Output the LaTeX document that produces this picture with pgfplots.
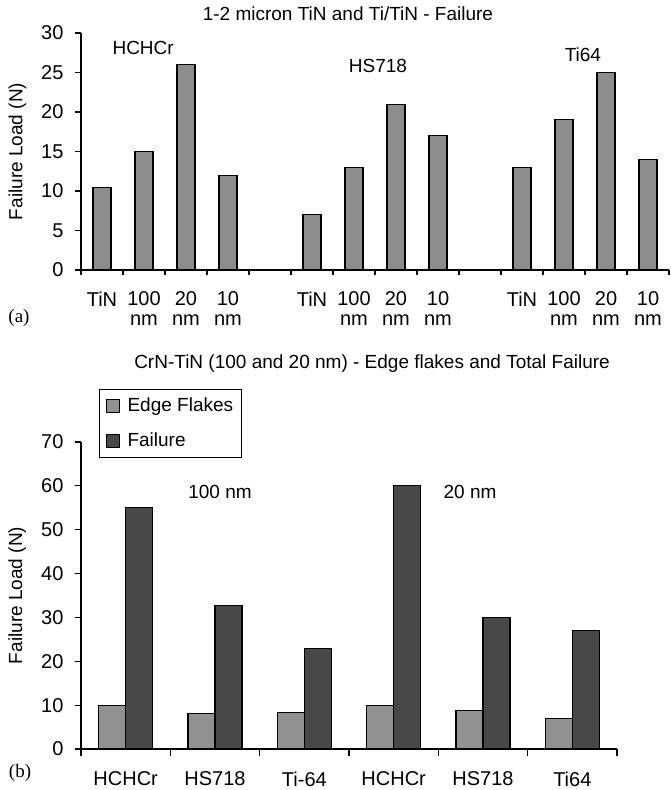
\documentclass[border=0pt]{standalone}
\usepackage{pgfplots}
\pgfplotsset{compat=1.18}
\usepackage{fontspec}
\setmainfont{Liberation Sans}
\newfontfamily\serif{Liberation Serif}
\definecolor{barA}{RGB}{140,140,140}
\definecolor{barL}{RGB}{145,145,145}
\definecolor{barD}{RGB}{72,72,72}
\newcommand{\fs}{\fontsize{19pt}{20pt}\selectfont}
\newcommand{\ft}{\fontsize{20pt}{19.5pt}\selectfont}
\begin{document}
\fs
\begin{tikzpicture}
\useasboundingbox (0pt,0pt) rectangle (670pt,-790pt);
\pgfplotsset{
  common/.style={
    scale only axis,
    axis x line=bottom, axis y line=left,
    axis line style={-, line width=1.1pt},
    tick align=outside,
    every tick/.style={black, line width=1.1pt},
    /pgf/number format/assume math mode=true,
    tick label style={font=\ft},
    yticklabel style={xshift=-5pt},
    label style={font=\fs},
    ylabel={Failure Load (N)},
    ymin=0,
    clip=false,
  }
}
% ---------- (a) ----------
\begin{axis}[common,
  at={(81pt,-270pt)}, anchor=south west,
  width=588pt, height=237pt,
  xmin=-0.5, xmax=13.5, ymax=30,
  ytick={0,5,...,30},
  xtick={0,1,2,3,5,6,7,8,10,11,12,13},
  xticklabels={TiN,{100\\nm},{20\\nm},{10\\nm},TiN,{100\\nm},{20\\nm},{10\\nm},TiN,{100\\nm},{20\\nm},{10\\nm}},
  xticklabel style={align=center, yshift=-9pt, font=\ft},
  major x tick style={draw=none},
  minor xtick={-0.5,0.5,...,13.5},
  minor tick length=5pt,
  major tick length=6pt,
  ylabel style={at={(axis description cs:-0.108,0.5)}, anchor=center},
  title={1-2 micron TiN and Ti/TiN - Failure},
  title style={at={(rel axis cs:0.454,1.055)}, anchor=center, font=\fs},
  ybar, bar width=18pt,
]
\addplot[fill=barA, draw=black, line width=1.1pt] coordinates {
  (0,10.5) (1,15) (2,26) (3,12)
  (5,7) (6,13) (7,21) (8,17)
  (10,13) (11,19) (12,25) (13,14)
};
\node at (axis cs:0.98,28.1) {HCHCr};
\node at (axis cs:6.57,25.8) {HS718};
\node at (axis cs:11.45,27.3) {Ti64};
\end{axis}
\node[font=\serif\fs] at (19pt,-318pt) {(a)};
% ---------- (b) ----------
\begin{axis}[common,
  at={(81pt,-749pt)}, anchor=south west,
  width=536pt, height=307pt,
  xmin=-0.5, xmax=5.5, ymax=70,
  ytick={0,10,...,70},
  xtick={0,...,5},
  xticklabels={HCHCr,HS718,Ti-64,HCHCr,HS718,Ti64},
  xticklabel style={yshift=-10pt},
  major x tick style={draw=none},
  minor xtick={-0.5,0.5,...,5.5},
  minor tick length=7pt,
  major tick length=6pt,
  ylabel style={at={(axis description cs:-0.119,0.5)}, anchor=center},
  title={CrN-TiN (100 and 20 nm) - Edge flakes and Total Failure},
  title style={at={(rel axis cs:0.543,1.235)}, anchor=center, font=\fs},
  ybar=0pt, bar width=27pt,
  legend style={at={(rel axis cs:0.0336,1.1726)}, anchor=north west,
    draw=black, line width=1.1pt, font=\fs,
    inner xsep=6pt, inner ysep=6pt, row sep=15pt, cells={anchor=west},
    /tikz/every odd column/.append style={column sep=6pt}},
  legend image code/.code={\draw[#1, line width=1pt] (0pt,-6.5pt) rectangle (13pt,6.5pt);},
]
\addplot[fill=barL, draw=black, line width=1.1pt] coordinates {
  (0,10) (1,8) (2,8.3) (3,10) (4,8.7) (5,7)
};
\addplot[fill=barD, draw=black, line width=1.1pt] coordinates {
  (0,55) (1,32.8) (2,23) (3,60) (4,30) (5,27)
};
\legend{Edge Flakes\hspace{12pt},Failure}
\node at (axis cs:1.056,58.6) {100 nm};
\node at (axis cs:3.855,58.6) {20 nm};
\end{axis}
\node[font=\serif\fs] at (20pt,-773pt) {(b)};
\end{tikzpicture}
\end{document}
